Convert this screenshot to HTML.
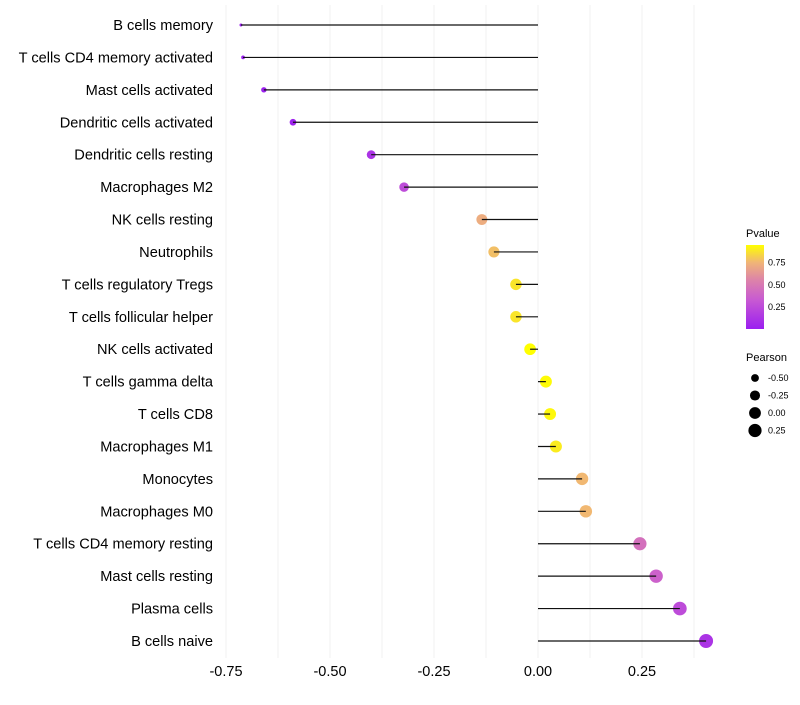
<!DOCTYPE html>
<html><head><meta charset="utf-8"><style>
body{margin:0;background:#fff;font-family:"Liberation Sans",sans-serif;}
svg text{font-family:"Liberation Sans",sans-serif;}
</style></head><body>
<svg id="chart" width="800" height="700" xmlns="http://www.w3.org/2000/svg"></svg>
<script>
const categories=["B cells memory","T cells CD4 memory activated","Mast cells activated","Dendritic cells activated","Dendritic cells resting","Macrophages M2","NK cells resting","Neutrophils","T cells regulatory  Tregs ","T cells follicular helper","NK cells activated","T cells gamma delta","T cells CD8","Macrophages M1","Monocytes","Macrophages M0","T cells CD4 memory resting","Mast cells resting","Plasma cells","B cells naive"];
const pearson=[-0.714,-0.709,-0.659,-0.589,-0.401,-0.322,-0.135,-0.106,-0.053,-0.053,-0.019,0.019,0.029,0.043,0.106,0.115,0.245,0.284,0.341,0.404];
const pvalue=[0.0,0.0,0.01,0.02,0.12,0.25,0.72,0.78,0.88,0.88,0.95,0.94,0.93,0.9,0.76,0.76,0.45,0.37,0.25,0.12];
const xTicks=[-0.75,-0.5,-0.25,0,0.25];
const xTickLabels=["-0.75","-0.50","-0.25","0.00","0.25"];
const pTicks=[0.25,0.5,0.75];
const sizeTicks=[-0.5,-0.25,0,0.25];

const NS="http://www.w3.org/2000/svg";
const svg=document.getElementById('chart');
const x=v=>538+v*416;
const y=i=>25+i*616/19;
const rad=v=>1.5+5.5*Math.sqrt(Math.max(0,(v+0.714)/1.118));
const stops=[[0,[155,31,240]],[0.33,[200,90,210]],[0.55,[220,130,170]],[0.75,[240,180,120]],[0.95,[255,255,0]]];
function col(p){p=Math.max(0,Math.min(0.95,p));for(let k=1;k<stops.length;k++){if(p<=stops[k][0]){const a=stops[k-1],b=stops[k];const t=(p-a[0])/(b[0]-a[0]);const c=a[1].map((q,j)=>Math.round(q+(b[1][j]-q)*t));return `rgb(${c})`;}}return 'rgb(255,255,0)';}
function el(t,a){const e=document.createElementNS(NS,t);for(const k in a)e.setAttribute(k,a[k]);svg.appendChild(e);return e;}

for(let v=-0.75;v<=0.376;v+=0.125){const g=el('line',{x1:x(v),x2:x(v),y1:5,y2:658,stroke:'#f0f0f0','stroke-width':1});

}
xTicks.forEach((v,i)=>{const t=el('text',{x:x(v),y:676,'font-size':14.5,'text-anchor':'middle',fill:'#000'});t.textContent=xTickLabels[i];

});
categories.forEach((c,i)=>{
const t=el('text',{x:213,y:y(i)+5,'font-size':14.6,'text-anchor':'end',fill:'#000'});t.textContent=c;


const d=el('circle',{cx:x(pearson[i]),cy:y(i),r:rad(pearson[i]),fill:col(pvalue[i])});


const l=el('line',{x1:x(0),x2:x(pearson[i]),y1:y(i),y2:y(i),stroke:'#111','stroke-width':1.2});


});
const defs=el('defs',{});
const gr=document.createElementNS(NS,'linearGradient');gr.setAttribute('id','pg');gr.setAttribute('x1','0');gr.setAttribute('y1','1');gr.setAttribute('x2','0');gr.setAttribute('y2','0');
stops.forEach(s=>{const st=document.createElementNS(NS,'stop');st.setAttribute('offset',s[0]/0.95);st.setAttribute('stop-color',`rgb(${s[1]})`);gr.appendChild(st);});defs.appendChild(gr);
const lt=el('text',{x:746,y:237,'font-size':11});lt.textContent='Pvalue';


const bar=el('rect',{x:746,y:245,width:18,height:84,fill:'url(#pg)'});


pTicks.forEach(p=>{const yy=329-p/0.95*84;const t=el('text',{x:768,y:yy+3,'font-size':9});t.textContent=p.toFixed(2);

});
const st=el('text',{x:746,y:361,'font-size':11});st.textContent='Pearson';


sizeTicks.forEach((v,i)=>{const yy=378+i*17.5;const c=el('circle',{cx:755,cy:yy,r:rad(v),fill:'#000'});


const t=el('text',{x:768,y:yy+3,'font-size':9});t.textContent=v.toFixed(2);

});
</script>
</body></html>
